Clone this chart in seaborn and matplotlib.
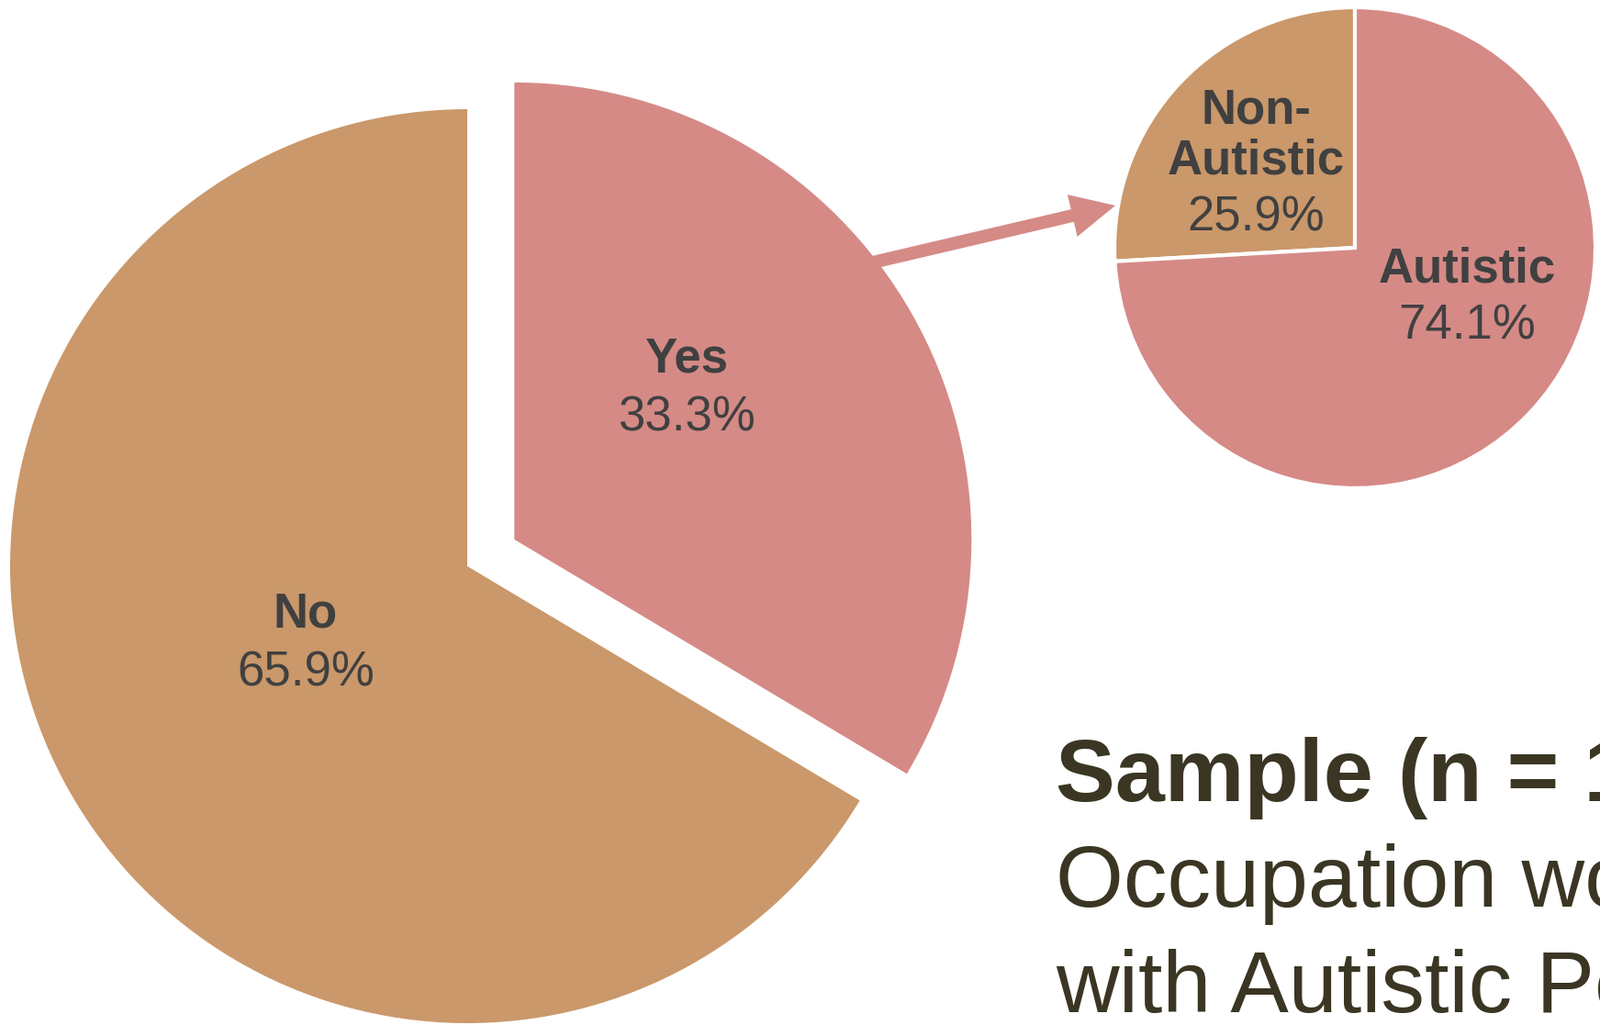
import numpy as np
import seaborn as sns
import matplotlib
import matplotlib.pyplot as plt

sns.set_theme(style='white')
plt.rcParams['font.family'] = ['Liberation Sans', 'DejaVu Sans']

# data
main_labels = ['Yes', 'No']
main_pct = [33.3, 65.9]
sub_labels = ['Non-\nAutistic', 'Autistic']
sub_pct = [25.9, 74.1]
caption = ['Sample (n = 123)', 'Occupation working', 'with Autistic People']

brown = '#CA986A'
pink = '#D58A86'
txt = '#404040'

W, H = 1743, 1117
fig = plt.figure(figsize=(W / 100, H / 100), dpi=100)
ax = fig.add_axes([0, 0, 1, 1])
ax.set_aspect('equal')
ax.axis('off')

# big pie, Yes slice pulled out
ax.pie(main_pct, colors=[pink, brown], startangle=90, counterclock=False,
       center=(509, H - 617), radius=498, explode=[59, 0],
       wedgeprops=dict(linewidth=0))

# small pie breaking down the Yes slice
ax.pie(sub_pct, colors=[brown, pink], startangle=90, counterclock=True,
       center=(1476, H - 270), radius=262,
       wedgeprops=dict(linewidth=3, edgecolor='white'))

ax.set_xlim(0, W)
ax.set_ylim(0, H)

# arrow from Yes slice to the small pie
ax.arrow(925, H - 292, 1215 - 925, 292 - 224, width=14,
         head_width=47, head_length=48, length_includes_head=True,
         color=pink, lw=0)

# labels
lab_pos = {'No': (333, 684), 'Yes': (748, 406)}
for name, p in zip(main_labels, main_pct):
    x, y = lab_pos[name]
    ax.text(x, H - y, name, ha='center', va='baseline', fontsize=38,
            fontweight='bold', color=txt)
    ax.text(x, H - y - 63, f'{p}%', ha='center', va='baseline',
            fontsize=38, color=txt)

sub_pos = [(1368, 190), (1598, 307)]
for name, p, (x, y) in zip(sub_labels, sub_pct, sub_pos):
    ax.text(x, H - y, name, ha='center', va='baseline', fontsize=38,
            fontweight='bold', color=txt, linespacing=1.15)
    ax.text(x, H - y - 62, f'{p}%', ha='center', va='baseline',
            fontsize=38, color=txt)

# caption, runs off the right edge like the original
for i, line in enumerate(caption):
    ax.text(1150, H - 873 - 115 * i, line, ha='left', va='baseline',
            fontsize=70 if i == 0 else 68.5,
            fontweight='bold' if i == 0 else 'normal',
            color='#3A3623')

fig.savefig('out.png', dpi=100)
